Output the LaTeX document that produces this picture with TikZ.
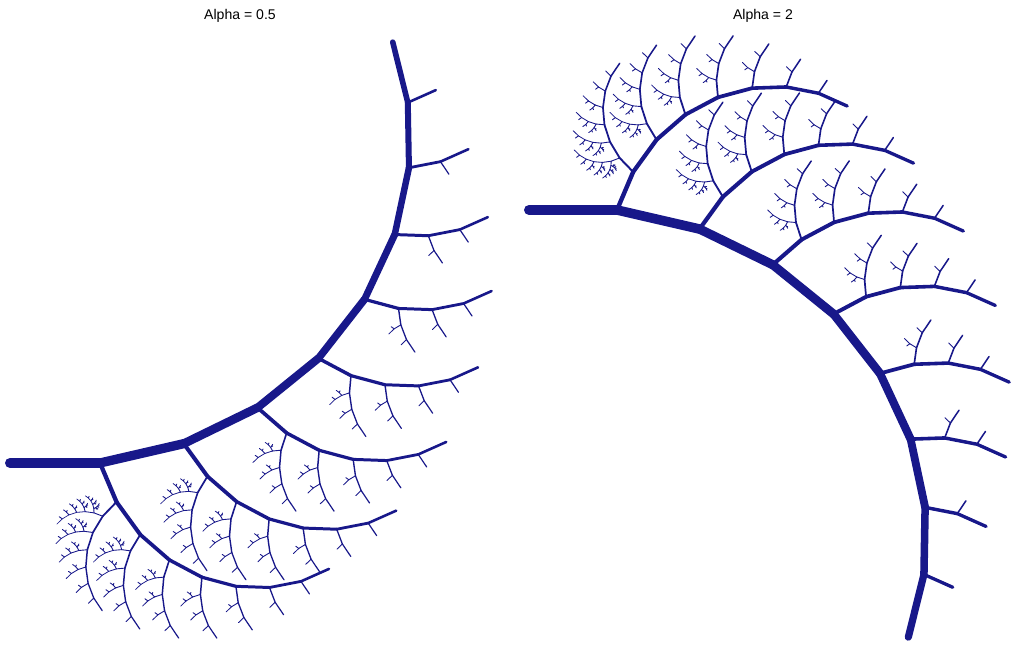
\documentclass[tikz,border=0pt]{standalone}
\usepackage{fontspec}
\setmainfont{Liberation Sans}
\usepackage{xcolor}
\definecolor{treeblue}{RGB}{24,24,138}
\tikzset{twig/.style={draw=treeblue,line cap=round}}

\newcommand{\growbranch}[6]{%
  \begingroup
  \pgfmathsetmacro{\bendx}{#1+#4*cos(#3)}%
  \pgfmathsetmacro{\bendy}{#2+#4*sin(#3)}%
  \draw[twig,line width=#5*0.25mm] (#1,#2) -- (\bendx,\bendy);
  \ifnum#6>1
    \pgfmathsetmacro{\bmainh}{#3+\bturn}%
    \pgfmathsetmacro{\bsideh}{#3-\bspread}%
    \pgfmathsetmacro{\bmainl}{#4*\bkeep}%
    \pgfmathsetmacro{\bsidel}{#4*\bshrink}%
    \pgfmathsetmacro{\bmainw}{#5*\bthin}%
    \pgfmathsetmacro{\bsidew}{max(#5*\bsidethin,0.9)}%
    \edef\bnext{%
      \noexpand\growbranch{\bendx}{\bendy}{\bmainh}{\bmainl}{\bmainw}{\the\numexpr#6-1\relax}%
      \noexpand\growbranch{\bendx}{\bendy}{\bsideh}{\bsidel}{\bsidew}{\the\numexpr#6-1\relax}}%
    \bnext
  \fi
  \endgroup}

\begin{document}
\begin{tikzpicture}[x=0.25mm,y=0.25mm]
\useasboundingbox (0,0) rectangle (1015,648);
\node (lefttitle) at (240,632) {Alpha = 0.5};
\node (righttitle) at (763,632) {Alpha = 2};
% alpha = 0.5
\def\bturn{13}\def\bspread{67}\def\bkeep{0.955}\def\bshrink{0.47}\def\bthin{0.93}\def\bsidethin{0.43}
\growbranch{10}{185}{0}{90}{10}{9}
% alpha = 2
\def\bturn{-13}\def\bspread{-67}\def\bkeep{0.962}\def\bshrink{0.47}\def\bthin{0.96}\def\bsidethin{0.44}
\growbranch{529}{438}{0}{88}{10}{9}
\end{tikzpicture}
\end{document}
